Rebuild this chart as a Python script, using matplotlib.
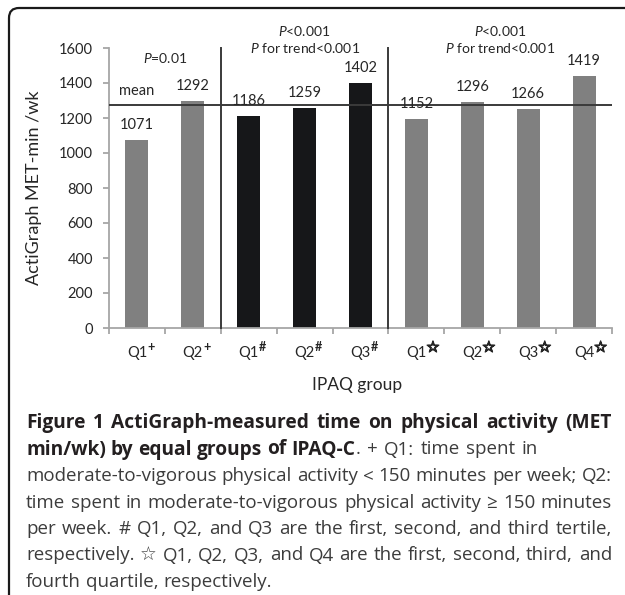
import matplotlib
matplotlib.use('Agg')
import matplotlib.pyplot as plt
from matplotlib.path import Path
from matplotlib.patches import PathPatch
import matplotlib.patheffects as pe

# ---------------- data ----------------
groups = ['Q1', 'Q2', 'Q1', 'Q2', 'Q3', 'Q1', 'Q2', 'Q3', 'Q4']
marks = ['+', '+', '#', '#', '#', '☆', '☆', '☆', '☆']
bar_values = [1074, 1297, 1211, 1257, 1400, 1194, 1291, 1251, 1440]
value_labels = ['1071', '1292', '1186', '1259', '1402', '1152', '1296', '1266', '1419']
bar_colors = ['#808080', '#808080', '#161719', '#161719', '#161719',
              '#808080', '#808080', '#808080', '#808080']
mean_value = 1274
y_ticks = [0, 200, 400, 600, 800, 1000, 1200, 1400, 1600]
section_bounds = [1.5, 4.5]
section_p = ['$P$=0.01', '$P$<0.001', '$P$<0.001']
section_trend = ['', '$P$ for trend<0.001', '$P$ for trend<0.001']

# each caption line: segments, right edge (px) to justify to, or None
caption_lines = [
    ([('Figure 1 ActiGraph-measured time on physical activity (MET', 'bold')], 612),
    ([('min/wk) by equal groups of IPAQ-C', 'bold'), ('. + Q1: time spent in', 'normal')], 538),
    ([('moderate-to-vigorous physical activity < 150 minutes per week; Q2:', 'normal')], 612),
    ([('time spent in moderate-to-vigorous physical activity ≥ 150 minutes', 'normal')], 612),
    ([('per week. # Q1, Q2, and Q3 are the first, second, and third tertile,', 'normal')], 612),
    ([('respectively. ☆ Q1, Q2, Q3, and Q4 are the first, second, third, and', 'normal')], 612),
    ([('fourth quartile, respectively.', 'normal')], None),
]

# ---------------- style ----------------
W, H = 625, 595
plt.rcParams['font.family'] = ['Lato', 'DejaVu Sans']
plt.rcParams['mathtext.fontset'] = 'custom'
plt.rcParams['mathtext.rm'] = 'Lato'
plt.rcParams['mathtext.it'] = 'Lato:italic'
plt.rcParams['mathtext.bf'] = 'Lato:bold'
txt_col = '#262626'
axis_col = '#a6a6a6'
line_col = '#3a3a3a'

fig = plt.figure(figsize=(W / 100, H / 100), dpi=100)
ax = fig.add_axes([109 / W, 1 - 328 / H, 503 / W, 280 / H])

x = list(range(len(groups)))
ax.bar(x, bar_values, width=0.41, color=bar_colors, zorder=2)
ax.set_xlim(-0.5, len(groups) - 0.5)
ax.set_ylim(0, 1600)

for s in ['top', 'right']:
    ax.spines[s].set_visible(False)
for s in ['left', 'bottom']:
    ax.spines[s].set_color(axis_col)
    ax.spines[s].set_linewidth(1.3)
ax.set_yticks(y_ticks)
ax.set_yticklabels([str(v) for v in y_ticks], fontsize=10.5, color=txt_col)
ax.set_xticks([i - 0.5 for i in range(len(groups) + 1)])
ax.set_xticklabels([])
ax.tick_params(axis='both', color=axis_col, width=1.3, length=4, direction='out')
ax.tick_params(axis='y', pad=7.5)

# mean line and section separators
ax.axhline(mean_value, color=line_col, lw=1.4, zorder=3)
for b in section_bounds:
    ax.plot([b, b], [0, 1600], color=line_col, lw=1.4, zorder=3, clip_on=False)
ax.text(0, 1354, 'mean', ha='center', va='center', fontsize=10.5, color=txt_col)

# value labels
for xi, v, lab in zip(x, bar_values, value_labels):
    ax.annotate(lab, (xi, v), xytext=(0, 10.5), textcoords='offset points',
                ha='center', va='center', fontsize=10.5, color=txt_col)

# tick labels with superscripts
for xi, g, m in zip(x, groups, marks):
    ax.annotate(g, (xi, 0), xycoords=('data', 'axes fraction'), xytext=(0, -18),
                textcoords='offset points', ha='center', va='center',
                fontsize=10.5, color=txt_col, annotation_clip=False)
    is_star = (m == '☆')
    sup_font = ['DejaVu Sans'] if is_star else ['Lato', 'DejaVu Sans']
    t = ax.annotate(m, (xi, 0), xycoords=('data', 'axes fraction'),
                    xytext=(7.0 if is_star else 7.5, -14),
                    textcoords='offset points', ha='left', va='center',
                    fontsize=11 if is_star else 9, fontweight='bold', color=txt_col,
                    family=sup_font, annotation_clip=False)
    if is_star:
        t.set_path_effects([pe.withStroke(linewidth=0.9, foreground=txt_col)])

# section annotations
edges = [-0.5] + section_bounds + [len(groups) - 0.5]
for i in range(len(section_p)):
    cx = (edges[i] + edges[i + 1]) / 2
    if section_trend[i]:
        ax.text(cx, 1600 + 17 / 0.175, section_p[i], ha='center', va='center',
                fontsize=10, color=txt_col, clip_on=False)
        ax.text(cx, 1600, section_trend[i], ha='center', va='center',
                fontsize=10, color=txt_col, clip_on=False)
    else:
        ax.text(cx, 1600 - 10 / 0.175, section_p[i], ha='center', va='center',
                fontsize=10, color=txt_col, clip_on=False)

ax.set_ylabel('ActiGraph MET-min /wk', fontsize=13, color=txt_col, labelpad=12)
fig.text(357 / W, 1 - 385 / H, 'IPAQ group', ha='center', va='center',
         fontsize=12.5, color=txt_col)

# frame with rounded top-left corner (in pixel units via inches)
def px(xp, yp):
    return (xp / 100, (H - yp) / 100)

verts = [px(9, 640), px(9, 18), px(9, 8), px(19, 8), px(640, 8)]
codes = [Path.MOVETO, Path.LINETO, Path.CURVE3, Path.CURVE3, Path.LINETO]
fig.patches.append(PathPatch(Path(verts, codes), transform=fig.dpi_scale_trans,
                             fill=False, edgecolor='#1a1a1a', lw=1.6))

# caption with justified lines; calibrate font sizes to reference widths
cap_family = ['Open Sans', 'DejaVu Sans']
x0, x1 = 26, 612
base0, step = 428, 26.5
fig.canvas.draw()
r = fig.canvas.get_renderer()


def measure(s, wt, size):
    tt = fig.text(0, 0, s, fontsize=size, fontweight=wt, family=cap_family)
    w = tt.get_window_extent(r).width
    tt.remove()
    return w


def natural(s, wt, size):
    words = s.split(' ')
    sp = size * 100 / 72 * 0.26
    return sum(measure(wd, wt, size) for wd in words) + sp * (len(words) - 1)


bold_size = 12 * 329 / measure('min/wk) by equal groups of IPAQ-C', 'bold', 12)
reg_lines = [segs[0][0] for segs, j in caption_lines
             if j and len(segs) == 1 and segs[0][1] == 'normal']
widest = max(natural(s, 'normal', 12) for s in reg_lines)
reg_size = 12 * (x1 - x0 - 4) / widest
base_space = {'bold': bold_size * 100 / 72 * 0.26,
              'normal': reg_size * 100 / 72 * 0.26}

for li, (segs, right) in enumerate(caption_lines):
    ybase = base0 + li * step
    tokens = []  # (text, weight, glued)
    for si, (txt, wt) in enumerate(segs):
        parts = txt.split(' ')
        for pi, p in enumerate(parts):
            if p == '':
                continue
            glued = (si > 0 and pi == 0 and not txt.startswith(' '))
            tokens.append((p, wt, glued))
    objs = []
    for tk, wt, g in tokens:
        col = '#231f20' if wt == 'bold' else '#3c3c3c'
        sz = bold_size if wt == 'bold' else reg_size
        o = fig.text(0, 1 - ybase / H, tk, fontsize=sz, fontweight=wt,
                     family=cap_family, color=col, va='baseline', ha='left')
        objs.append(o)
    widths = [o.get_window_extent(r).width for o in objs]
    mixed = len(set(tk[1] for tk in tokens)) > 1
    gaps = []
    for k in range(1, len(tokens)):
        if tokens[k][2]:
            gaps.append(None)
        else:
            stretch = (not mixed) or tokens[k][1] == 'normal'
            gaps.append(stretch)
    fixed = sum(base_space[tokens[k + 1][1]] for k, g in enumerate(gaps) if g is False)
    n_str = sum(1 for g in gaps if g)
    sp_str = base_space['normal']
    if right is not None and n_str > 0:
        sp_str = (right - x0 - sum(widths) - fixed) / n_str
    cur = x0
    for k, (o, w) in enumerate(zip(objs, widths)):
        if k > 0:
            g = gaps[k - 1]
            if g is True:
                cur += sp_str
            elif g is False:
                cur += base_space[tokens[k][1]]
        o.set_x(cur / W)
        cur += w

fig.savefig('out.png', dpi=100)
